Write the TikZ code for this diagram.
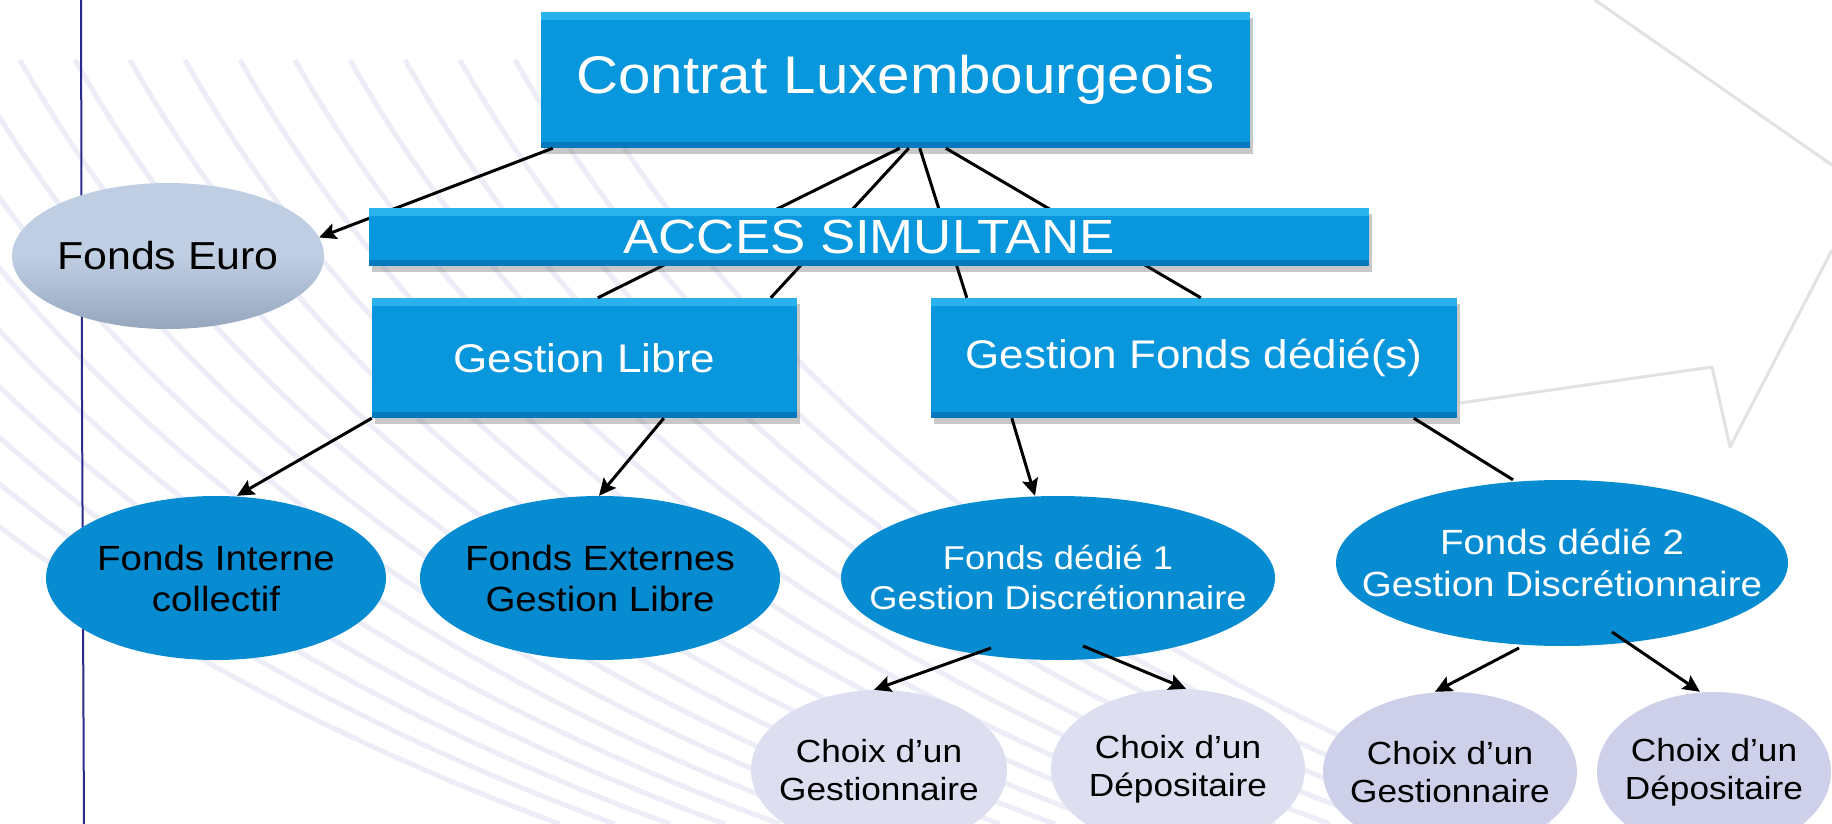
\documentclass[tikz,border=0pt]{standalone}
\usepackage{fontspec}
\setmainfont{Liberation Sans}[FakeStretch=1.1]
\usetikzlibrary{shapes.geometric,arrows.meta,shadows,calc}
\definecolor{boxblue}{HTML}{0896DC}
\definecolor{boxlight}{HTML}{2AB2EC}
\definecolor{boxdark}{HTML}{0678BE}
\definecolor{ellblue}{HTML}{078CD2}
\definecolor{eurotop}{HTML}{BFCEE3}
\definecolor{eurobot}{HTML}{96A6BC}
\definecolor{choixa}{HTML}{DDDFF0}
\definecolor{choixb}{HTML}{CDD0E8}
\definecolor{stripe}{HTML}{EDEDF8}
\definecolor{vline}{HTML}{2B2B8C}
\definecolor{greyline}{HTML}{E2E2E2}
\begin{document}
\begin{tikzpicture}[x=1pt,y=-1pt,
  bluebox/.style={rectangle, fill=boxblue, text=white, inner sep=0pt,
    drop shadow={shadow xshift=3pt, shadow yshift=-6pt, opacity=0.3, fill=black!70},
    path picture={
      \fill[boxlight] (path picture bounding box.north west) rectangle ([yshift=-8pt]path picture bounding box.north east);
      \fill[boxdark] ([yshift=6pt]path picture bounding box.south west) rectangle (path picture bounding box.south east);
    }},
  shapeell/.style={ellipse, inner sep=0pt},
  fundell/.style={shapeell, fill=ellblue},
  labeltext/.style={align=center, inner sep=0pt},
  choixtext/.style={labeltext, text=black, font=\fontsize{32}{38}\selectfont},
  link/.style={line width=3pt, black},
  arr/.style={link, -{Stealth[length=17pt,width=16pt,inset=3pt]}},
]
\useasboundingbox (0,0) rectangle (1832,824);
\fill[white] (0,0) rectangle (1832,824);
% background stripes
\foreach \i in {0,...,18} {
  \draw[stripe, line width=5pt]
    ({\i*55-420},60) .. controls ({\i*55-250},360) and ({\i*55+60},640) .. ({\i*55+560},824);
}
% grey arrow outline at right
\draw[greyline, line width=3pt, line join=round] (1595,0) -- (1832,165);
\draw[greyline, line width=3pt, line join=round] (1832,250) -- (1730,447) -- (1712,367) -- (1460,403);
% left vertical line
\draw[vline, line width=2pt] (81,0) -- (82,400) -- (84,824);

% nodes
\node[bluebox, minimum width=709pt, minimum height=136pt, font=\fontsize{53}{60}\selectfont] (contrat) at (895.5,80) {Contrat Luxembourgeois};
\node[bluebox, minimum width=425pt, minimum height=120pt, font=\fontsize{40}{48}\selectfont] (glibre) at (584.5,358) {Gestion Libre};
\node[bluebox, minimum width=526pt, minimum height=120pt, font=\fontsize{40}{48}\selectfont] (gfonds) at (1194,358) {Gestion Fonds dédié(s)};

% connectors behind ACCES box
\draw[link] ([xshift=359pt]contrat.south west) -- ([xshift=226pt]glibre.north west);
\draw[link] ([xshift=368pt]contrat.south west) -- ([xshift=399pt]glibre.north west);
\draw[link] ([xshift=379pt]contrat.south west) -- ([xshift=36pt]gfonds.north west);
\draw[link] ([xshift=405pt]contrat.south west) -- ([xshift=270pt]gfonds.north west);

\node[shapeell, minimum width=312pt, minimum height=146pt,
      top color=eurotop, bottom color=eurobot, middle color=eurotop] (euro) at (168,256) {};
\node[labeltext, font=\fontsize{39}{46}\selectfont] (eurot) at (euro.center) {Fonds Euro};
\draw[arr] ([xshift=12pt]contrat.south west) -- (euro.7);

\node[bluebox, minimum width=1000pt, minimum height=58pt, font=\fontsize{48}{54}\selectfont] (acces) at (869,237) {ACCES SIMULTANE};

\node[fundell, minimum width=340pt, minimum height=164pt] (interne) at (216,578) {};
\node[labeltext, text=black, font=\fontsize{35}{41}\selectfont] (internet) at (interne.center) {Fonds Interne\\collectif};
\node[fundell, minimum width=360pt, minimum height=164pt] (externes) at (600,578) {};
\node[labeltext, text=black, font=\fontsize{35}{41}\selectfont] (externest) at (externes.center) {Fonds Externes\\Gestion Libre};
\node[fundell, minimum width=434pt, minimum height=164pt] (dedie1) at (1058,578) {};
\node[labeltext, text=white, font=\fontsize{33}{40}\selectfont] (dedie1t) at (dedie1.center) {Fonds dédié 1\\Gestion Discrétionnaire};
\node[fundell, minimum width=452pt, minimum height=166pt] (dedie2) at (1562,563) {};
\node[labeltext, text=white, font=\fontsize{35}{42}\selectfont] (dedie2t) at (dedie2.center) {Fonds dédié 2\\Gestion Discrétionnaire};

\node[shapeell, fill=choixa, minimum width=256pt, minimum height=160pt] (cg1) at (879,770) {};
\node[choixtext] (cg1t) at (cg1.center) {Choix d’un\\Gestionnaire};
\node[shapeell, fill=choixa, minimum width=254pt, minimum height=160pt] (cd1) at (1178,769) {};
\node[choixtext] (cd1t) at (cd1.center) {Choix d’un\\Dépositaire};
\node[shapeell, fill=choixb, minimum width=254pt, minimum height=160pt] (cg2) at (1450,772) {};
\node[choixtext] (cg2t) at (cg2.center) {Choix d’un\\Gestionnaire};
\node[shapeell, fill=choixb, minimum width=234pt, minimum height=160pt] (cd2) at (1714,772) {};
\node[choixtext] (cd2t) at (cd2.center) {Choix d’un\\Dépositaire};

% arrows
\draw[arr] (glibre.south west) -- ([xshift=21pt]interne.north);
\draw[arr] ([xshift=292pt]glibre.south west) -- ([xshift=-1pt]externes.north);
\draw[arr] ([xshift=81pt]gfonds.south west) -- ([xshift=-23pt]dedie1.north);
\draw[link] ([xshift=483pt]gfonds.south west) -- ([xshift=-49pt]dedie2.north);
\draw[arr] ([xshift=-67pt,yshift=-70pt]dedie1.center) -- ([xshift=-5pt]cg1.north);
\draw[arr] ([xshift=25pt,yshift=-68pt]dedie1.center) -- ([xshift=8pt]cd1.north);
\draw[arr] ([xshift=-43pt,yshift=-85pt]dedie2.center) -- ([xshift=-15pt]cg2.north);
\draw[arr] ([xshift=50pt,yshift=-69pt]dedie2.center) -- ([xshift=-14pt]cd2.north);
\end{tikzpicture}
\end{document}
